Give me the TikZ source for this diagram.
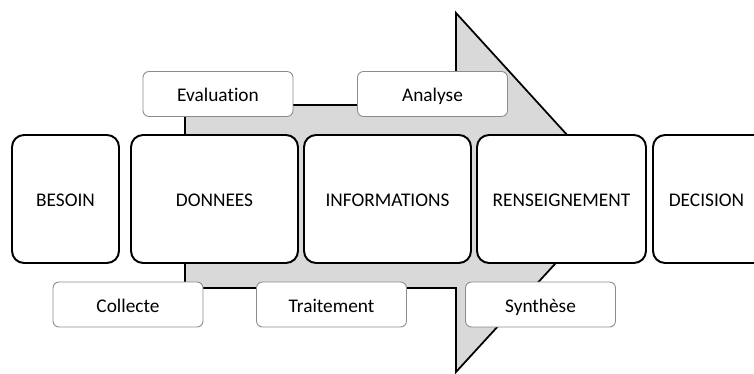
\documentclass[tikz,border=0pt]{standalone}
\usepackage{fontspec}
\setmainfont{Carlito}[Ligatures=NoCommon]
\usepackage{tikz}
\usetikzlibrary{positioning,calc}

\begin{document}
\begin{tikzpicture}[x=0.02cm,y=-0.02cm,
  font=\fontsize{11}{13}\selectfont,
  etape/.style={draw=black,line width=1.1pt,fill=white,rounded corners=0.24cm,
    minimum height=2.56cm,inner sep=0pt,text height=0.9em,text depth=0em},
  action/.style={draw=black!45,line width=0.5pt,fill=white,rounded corners=0.12cm,
    minimum width=3cm,minimum height=0.9cm,inner sep=0pt,text height=0.9em,text depth=0em}]
\clip (0,0) rectangle (754,374);
% fleche de fond
\coordinate (Q1) at (185,105);
\coordinate (Q2) at (456,105);
\coordinate (H1) at (456,13);
\coordinate (P) at (620,193);
\coordinate (H2) at (456,372);
\coordinate (Q3) at (456,288);
\coordinate (Q4) at (185,288);
\draw[fill=black!15,line width=1pt] (Q1) -- (Q2) -- (H1) -- (P) -- (H2) -- (Q3) -- (Q4) -- cycle;
% actions
\node[action] (evaluation) at (218,94) {Evaluation};
\node[action] (analyse) at (432.5,94) {Analyse};
\node[action] (collecte) at (128,304.5) {Collecte};
\node[action] (traitement) at (331.5,304.5) {Traitement};
\node[action] (synthese) at (540.5,304.5) {Synthèse};
% etapes
\node[etape,minimum width=2.14cm] (besoin) at (65.5,199) {BESOIN};
\node[etape,minimum width=3.34cm] (donnees) at (214.5,199) {DONNEES};
\node[etape,minimum width=3.34cm] (informations) at (387.5,199) {INFORMATIONS};
\node[etape,minimum width=3.38cm] (renseignement) at (561.5,199) {RENSEIGNEMENT};
\node[etape,minimum width=2.4cm] (decision) at (713,199) {\hspace*{-0.26cm}DECISION};
\end{tikzpicture}
\end{document}
